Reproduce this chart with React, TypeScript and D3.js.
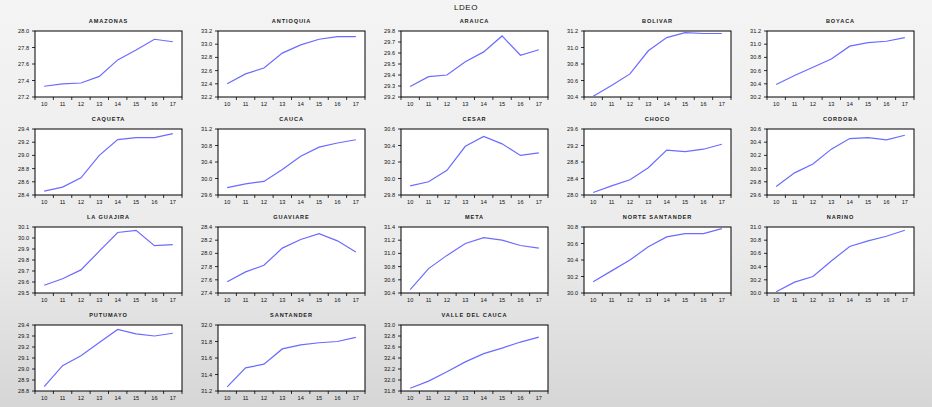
import React from "react";
import * as d3 from "d3";

const mainTitle = "LDEO";
const years = ["10", "11", "12", "13", "14", "15", "16", "17"];
const provinces = [
  "AMAZONAS", "ANTIOQUIA", "ARAUCA", "BOLIVAR", "BOYACA",
  "CAQUETA", "CAUCA", "CESAR", "CHOCO", "CORDOBA",
  "LA GUAJIRA", "GUAVIARE", "META", "NORTE SANTANDER", "NARINO",
  "PUTUMAYO", "SANTANDER", "VALLE DEL CAUCA",
];

const amazonas = [27.33, 27.36, 27.37, 27.45, 27.65, 27.77, 27.9, 27.87];
const antioquia = [32.4, 32.55, 32.64, 32.865, 32.99, 33.075, 33.115, 33.115];
const arauca = [29.295, 29.385, 29.4, 29.52, 29.61, 29.755, 29.58, 29.63];
const bolivar = [30.41, 30.54, 30.68, 30.96, 31.12, 31.18, 31.17, 31.17];
const boyaca = [30.39, 30.525, 30.65, 30.775, 30.97, 31.025, 31.045, 31.1];
const caqueta = [28.46, 28.52, 28.66, 29.0, 29.24, 29.27, 29.27, 29.33];
const cauca = [29.78, 29.87, 29.93, 30.22, 30.54, 30.76, 30.86, 30.94];
const cesar = [29.91, 29.96, 30.1, 30.39, 30.51, 30.42, 30.28, 30.31];
const choco = [28.06, 28.22, 28.37, 28.66, 29.09, 29.05, 29.11, 29.23];
const cordoba = [29.73, 29.935, 30.07, 30.295, 30.455, 30.47, 30.435, 30.505];
const laGuajira = [29.57, 29.63, 29.71, 29.88, 30.05, 30.07, 29.93, 29.94];
const guaviare = [27.57, 27.72, 27.82, 28.08, 28.21, 28.3, 28.19, 28.02];
const meta = [30.45, 30.77, 30.97, 31.15, 31.24, 31.2, 31.12, 31.08];
const norteSantander = [30.136, 30.268, 30.4, 30.56, 30.68, 30.72, 30.72, 30.78];
const narino = [30.02, 30.165, 30.25, 30.485, 30.705, 30.79, 30.86, 30.95];
const putumayo = [28.84, 29.03, 29.12, 29.24, 29.36, 29.32, 29.3, 29.325];
const santander = [31.25, 31.48, 31.525, 31.71, 31.76, 31.785, 31.8, 31.85];
const valleDelCauca = [31.85, 31.98, 32.15, 32.33, 32.48, 32.58, 32.69, 32.78];

const seriesList = [
  amazonas, antioquia, arauca, bolivar, boyaca,
  caqueta, cauca, cesar, choco, cordoba,
  laGuajira, guaviare, meta, norteSantander, narino,
  putumayo, santander, valleDelCauca,
];

const yMins = [27.2, 32.2, 29.2, 30.4, 30.2, 28.4, 29.6, 29.8, 28.0, 29.6, 29.5, 27.4, 30.4, 30.0, 30.0, 28.8, 31.2, 31.8];
const yMaxs = [28.0, 33.2, 29.8, 31.2, 31.2, 29.4, 31.2, 30.6, 29.6, 30.6, 30.1, 28.4, 31.4, 30.8, 31.0, 29.4, 32.0, 33.0];
const ySteps = [0.2, 0.2, 0.1, 0.2, 0.2, 0.2, 0.4, 0.2, 0.4, 0.2, 0.1, 0.2, 0.2, 0.2, 0.2, 0.1, 0.2, 0.2];

const W = 932;
const H = 407;
const COLS = 5;
const LEFT0 = 35;
const COL_GAP = 183;
const TOP0 = 31;
const ROW_GAP = 98;
const PW = 147;
const PH = 66;
const FONT = "'Liberation Sans', Arial, sans-serif";
const fmt = d3.format(".1f");

function Panel({ idx }: { idx: number }) {
  const col = idx % COLS;
  const row = Math.floor(idx / COLS);
  const x0 = LEFT0 + col * COL_GAP;
  const y0 = TOP0 + row * ROW_GAP;
  const x = d3.scaleBand<string>().domain(years).range([x0, x0 + PW]).padding(0);
  const y = d3.scaleLinear().domain([yMins[idx], yMaxs[idx]]).range([y0 + PH, y0]);
  const step = ySteps[idx];
  const ticks = d3.range(yMins[idx], yMaxs[idx] + step / 2, step);
  const line = d3
    .line<number>()
    .x((_, i) => (x(years[i]) as number) + x.bandwidth() / 2)
    .y((d) => y(d));
  const bounds = years.map((yr) => x(yr) as number).concat([x0 + PW]);
  return (
    <g>
      <text
        x={x0 + PW / 2}
        y={y0 - 8}
        textAnchor="middle"
        fontSize={5.6}
        fontWeight="bold"
        letterSpacing={0.9}
        fill="#222"
        fontFamily={FONT}
      >
        {provinces[idx]}
      </text>
      <rect x={x0} y={y0} width={PW} height={PH} fill="#ffffff" stroke="#000" strokeWidth={1} />
      {ticks.map((t, i) => (
        <g key={i}>
          <line x1={x0 - 3} x2={x0} y1={y(t)} y2={y(t)} stroke="#000" strokeWidth={0.8} />
          <text
            x={x0 - 6}
            y={y(t) + 2}
            textAnchor="end"
            fontSize={5.6}
            fill="#111"
            fontFamily={FONT}
          >
            {fmt(t)}
          </text>
        </g>
      ))}
      {bounds.map((b, i) => (
        <line key={i} x1={b} x2={b} y1={y0 + PH} y2={y0 + PH + 3} stroke="#000" strokeWidth={0.8} />
      ))}
      {years.map((yr) => (
        <text
          key={yr}
          x={(x(yr) as number) + x.bandwidth() / 2}
          y={y0 + PH + 9}
          textAnchor="middle"
          fontSize={5.6}
          fill="#111"
          fontFamily={FONT}
        >
          {yr}
        </text>
      ))}
      <path d={line(seriesList[idx]) || ""} fill="none" stroke="#6b6bff" strokeWidth={1.2} />
    </g>
  );
}

export default function App() {
  return (
    <svg
      width={W}
      height={H}
      style={{ position: "absolute", left: 0, top: 0, display: "block" }}
    >
      <defs>
        <linearGradient id="bg" x1="0" y1="0" x2="0" y2="1">
          <stop offset="0%" stopColor="#f4f4f4" />
          <stop offset="60%" stopColor="#ebebeb" />
          <stop offset="100%" stopColor="#d6d6d6" />
        </linearGradient>
      </defs>
      <rect x={0} y={0} width={W} height={H} fill="url(#bg)" />
      <text
        x={466}
        y={10}
        textAnchor="middle"
        fontSize={8}
        fill="#111"
        fontFamily={FONT}
        letterSpacing={0.6}
      >
        {mainTitle}
      </text>
      {seriesList.map((_, i) => (
        <Panel key={i} idx={i} />
      ))}
    </svg>
  );
}
